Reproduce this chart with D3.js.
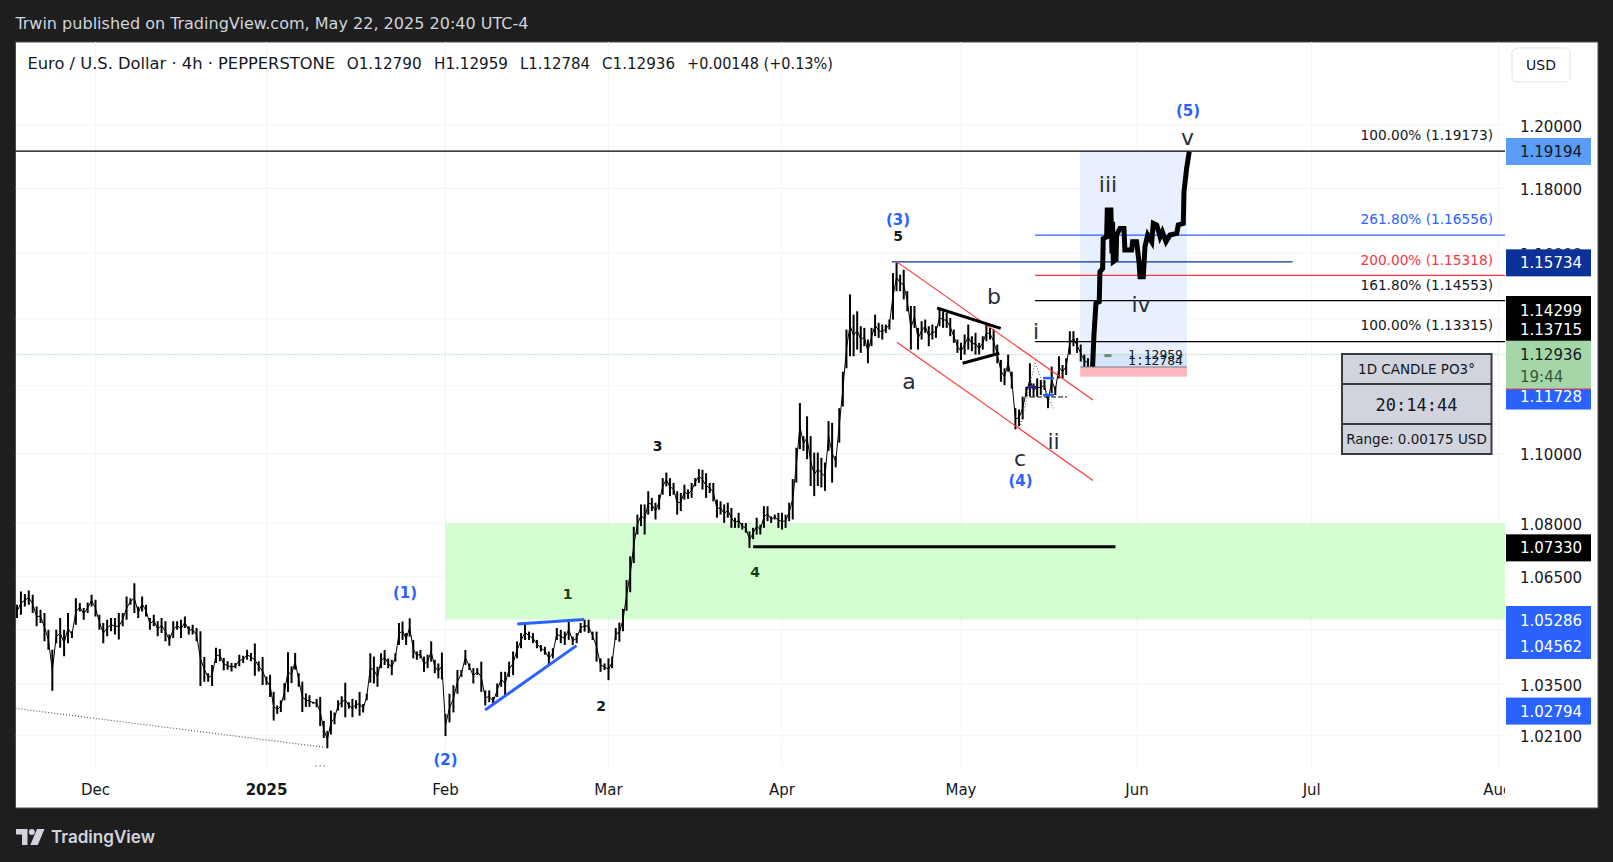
<!DOCTYPE html>
<html>
<head>
<meta charset="utf-8">
<script src="https://cdn.jsdelivr.net/npm/d3@7"></script>
<style>
  html, body { margin: 0; padding: 0; background: #1e1e1e; overflow: hidden; }
  text { font-family: "DejaVu Sans", sans-serif; }
</style>
</head>
<body>
<div id="my_dataviz"></div>
<script>
// 4h bars, one high and one low per half session, month by month
var highNov = [1.0570,1.0607,1.0600,1.0610,1.0598,1.0565,1.0556,1.0547,1.0500,1.0445,1.0500,1.0533,1.0500,1.0547,1.0496,1.0588,1.0575,1.0561,1.0576,1.0598]
var lowNov = [1.0533,1.0542,1.0565,1.0570,1.0547,1.0510,1.0519,1.0468,1.0445,1.0332,1.0463,1.0450,1.0427,1.0463,1.0477,1.0514,1.0551,1.0528,1.0547,1.0565]
var highDec = [1.0584,1.0542,1.0519,1.0528,1.0533,1.0533,1.0547,1.0547,1.0593,1.0588,1.0630,1.0565,1.0593,1.0570,1.0533,1.0542,1.0524,1.0533,1.0524,1.0487,1.0524,1.0524,1.0528,1.0537,1.0510,1.0514,1.0505,1.0496,1.0425,1.0380,1.0403,1.0450,1.0447,1.0422,1.0413,1.0408,1.0408,1.0431,1.0428,1.0445,1.0436,1.0462,1.0413,1.0425]
var lowDec = [1.0537,1.0500,1.0463,1.0482,1.0496,1.0487,1.0473,1.0510,1.0528,1.0570,1.0547,1.0533,1.0551,1.0537,1.0500,1.0510,1.0482,1.0491,1.0468,1.0456,1.0477,1.0500,1.0477,1.0505,1.0487,1.0487,1.0468,1.0345,1.0357,1.0357,1.0345,1.0408,1.0413,1.0388,1.0390,1.0385,1.0394,1.0399,1.0408,1.0417,1.0413,1.0373,1.0385,1.0348]
var highJan = [1.0371,1.0376,1.0329,1.0292,1.0306,1.0353,1.0438,1.0399,1.0436,1.0380,1.0357,1.0325,1.0320,1.0302,1.0310,1.0315,1.0250,1.0223,1.0278,1.0273,1.0306,1.0317,1.0354,1.0301,1.0310,1.0306,1.0329,1.0296,1.0324,1.0435,1.0426,1.0398,1.0435,1.0444,1.0421,1.0417,1.0435,1.0519,1.0523,1.0491,1.0532,1.0472,1.0440,1.0444,1.0426,1.0431,1.0468,1.0417,1.0407,1.0437]
var lowJan = [1.0348,1.0315,1.0251,1.0269,1.0274,1.0306,1.0329,1.0353,1.0390,1.0343,1.0274,1.0288,1.0288,1.0297,1.0287,1.0236,1.0204,1.0176,1.0213,1.0241,1.0278,1.0287,1.0260,1.0283,1.0260,1.0283,1.0264,1.0273,1.0306,1.0354,1.0352,1.0343,1.0394,1.0403,1.0394,1.0375,1.0412,1.0458,1.0472,1.0458,1.0481,1.0421,1.0417,1.0421,1.0384,1.0394,1.0412,1.0380,1.0366,1.0363]
var highFeb = [1.0269,1.0324,1.0347,1.0389,1.0389,1.0444,1.0407,1.0394,1.0394,1.0412,1.0333,1.0333,1.0315,1.0352,1.0384,1.0384,1.0412,1.0440,1.0468,1.0491,1.0514,1.0495,1.0491,1.0472,1.0458,1.0453,1.0440,1.0449,1.0505,1.0500,1.0495,1.0530,1.0481,1.0491,1.0519,1.0528,1.0528,1.0495,1.0495,1.0421,1.0407]
var lowFeb = [1.0209,1.0246,1.0273,1.0324,1.0370,1.0403,1.0389,1.0352,1.0375,1.0329,1.0292,1.0301,1.0292,1.0315,1.0343,1.0320,1.0370,1.0375,1.0421,1.0449,1.0472,1.0472,1.0463,1.0449,1.0440,1.0431,1.0403,1.0421,1.0472,1.0463,1.0458,1.0472,1.0458,1.0463,1.0491,1.0495,1.0491,1.0472,1.0412,1.0384,1.0389]
var highMar = [1.0421,1.0426,1.0505,1.0520,1.0558,1.0639,1.0706,1.0790,1.0825,1.0854,1.0854,1.0892,1.0873,1.0859,1.0882,1.0930,1.0946,1.0930,1.0916,1.0892,1.0887,1.0911,1.0897,1.0916,1.0930,1.0956,1.0954,1.0944,1.0916,1.0916,1.0868,1.0863,1.0854,1.0859,1.0844,1.0816,1.0830,1.0801,1.0801,1.0777,1.0787,1.0816,1.0796,1.0849,1.0849,1.0820,1.0825,1.0830]
var lowMar = [1.0361,1.0394,1.0472,1.0467,1.0496,1.0553,1.0605,1.0687,1.0768,1.0792,1.0768,1.0825,1.0835,1.0811,1.0839,1.0882,1.0906,1.0878,1.0882,1.0825,1.0835,1.0868,1.0870,1.0873,1.0906,1.0916,1.0897,1.0873,1.0887,1.0863,1.0816,1.0825,1.0801,1.0816,1.0787,1.0787,1.0787,1.0782,1.0773,1.0730,1.0755,1.0768,1.0768,1.0787,1.0806,1.0801,1.0811,1.0787]
var highApr = [1.0830,1.0825,1.0859,1.0927,1.1018,1.1149,1.1052,1.1110,1.1052,1.1004,1.1004,1.0989,1.0975,1.1096,1.1091,1.0994,1.1134,1.1242,1.1368,1.1474,1.1413,1.1423,1.1378,1.1373,1.1338,1.1373,1.1413,1.1388,1.1383,1.1383,1.1398,1.1539,1.1570,1.1534,1.1549,1.1484,1.1439,1.1439,1.1373,1.1393,1.1398,1.1378,1.1383,1.1378,1.1429,1.1423,1.1418,1.1403,1.1368,1.1338]
var lowApr = [1.0782,1.0787,1.0806,1.0811,1.0917,1.1014,1.1009,1.0985,1.0907,1.0878,1.0907,1.0903,1.0893,1.1009,1.0917,1.0961,1.1033,1.1139,1.1252,1.1288,1.1288,1.1308,1.1298,1.1318,1.1267,1.1318,1.1348,1.1343,1.1338,1.1358,1.1368,1.1398,1.1484,1.1484,1.1459,1.1423,1.1308,1.1373,1.1308,1.1338,1.1358,1.1318,1.1338,1.1343,1.1378,1.1373,1.1373,1.1348,1.1328,1.1298]
var highMay = [1.1328,1.1353,1.1383,1.1348,1.1358,1.1328,1.1348,1.1383,1.1373,1.1368,1.1323,1.1277,1.1252,1.1293,1.1242,1.1134,1.1130,1.1168,1.1197,1.1267,1.1207,1.1222,1.1217,1.1217,1.1168,1.1257,1.1199,1.1288,1.1262,1.1282,1.1363,1.1363,1.1343,1.1323,1.1293,1.1282]
var lowMay = [1.1277,1.1293,1.1308,1.1303,1.1293,1.1293,1.1308,1.1333,1.1338,1.1298,1.1267,1.1212,1.1202,1.1242,1.1192,1.1072,1.1081,1.1101,1.1168,1.1168,1.1168,1.1168,1.1173,1.1188,1.1134,1.1178,1.1173,1.1222,1.1222,1.1232,1.1293,1.1318,1.1298,1.1272,1.1257,1.1257]

// the projected leg, days after May 1 and price
var projDays = [23.18,23.42,23.77,24.35,24.47,24.95,25.05,25.65,25.76,26.4,26.6,26.7,26.82,27.3,27.41,28,28.7,28.87,30.05,30.23,30.93,31.34,31.52,32.08,32.37,32.84,33.53,33.8,34.39,34.96,35.35,35.98,36.67,37.82,38.09,38.95,39.07,39.53,39.97]
var projPrice = [1.1257,1.1352,1.1447,1.1452,1.1543,1.1553,1.1645,1.1650,1.1733,1.1733,1.1599,1.1697,1.1574,1.1580,1.1656,1.1676,1.1676,1.1610,1.1610,1.1635,1.1635,1.1574,1.1528,1.1528,1.1620,1.1656,1.1635,1.1692,1.1687,1.1650,1.1666,1.1635,1.1656,1.1661,1.1687,1.1692,1.1790,1.1864,1.1916]

// axis ticks
var monthDates = ["2024-11-18","2024-12-01","2025-01-01","2025-02-01","2025-03-01","2025-04-01","2025-05-01","2025-06-01","2025-07-01","2025-08-01"]
var monthLabels = ["","Dec","2025","Feb","Mar","Apr","May","Jun","Jul","Aug"]
var priceGrid = [1.2,1.18,1.16,1.14,1.12,1.10,1.08,1.065,1.05,1.035,1.021]
var priceLabels = [1.2,1.18,1.16,1.145,1.10,1.08,1.065,1.035,1.021]

// fib levels
var fibLevels = [1.19173,1.16556,1.15318,1.14553,1.13315]
var fibNames = ["100.00% (1.19173)","261.80% (1.16556)","200.00% (1.15318)","161.80% (1.14553)","100.00% (1.13315)"]

// legend pieces
var legendText = ["Euro / U.S. Dollar · 4h · PEPPERSTONE","O1.12790","H1.12959","L1.12784","C1.12936","+0.00148 (+0.13%)"]

// page layout
var width = 1613
var height = 862
var plotLeft = 15.5, plotRight = 1505, plotTop = 42, plotBottom = 767, paneRight = 1598, paneBottom = 808

var svg = d3.select("#my_dataviz")
  .append("svg")
    .attr("width", width)
    .attr("height", height)
    .style("display", "block")

var defs = svg.append("defs")
defs.append("clipPath").attr("id", "plot")
  .append("rect").attr("x", plotLeft).attr("y", plotTop).attr("width", plotRight - plotLeft).attr("height", plotBottom - plotTop)
defs.append("clipPath").attr("id", "timeaxis")
  .append("rect").attr("x", plotLeft).attr("y", plotBottom).attr("width", plotRight - plotLeft).attr("height", paneBottom - plotBottom)

// scales: the time axis is not quite even because weekends are skipped, so pin it at the month lines
var x = d3.scaleTime()
  .domain(monthDates.map(function(d) { return new Date(d + "T00:00:00Z") }))
  .range([17, 95.5, 266.5, 445.5, 608.5, 782, 961, 1137, 1311.7, 1498])

var y = d3.scaleLog()
  .domain([1.2, 1.021])
  .range([125, 735.7])

function day(s) { return new Date(s + ":00Z") }

// pane
svg.append("rect").attr("x", plotLeft).attr("y", plotTop).attr("width", paneRight - plotLeft).attr("height", paneBottom - plotTop)
  .attr("fill", "#fff").attr("stroke", "#4a4a4a").attr("stroke-width", 1)

var plot = svg.append("g").attr("clip-path", "url(#plot)")

// grid
plot.selectAll(".gh").data(priceGrid).enter().append("line")
  .attr("x1", plotLeft).attr("x2", plotRight)
  .attr("y1", function(d) { return y(d) }).attr("y2", function(d) { return y(d) })
  .attr("stroke", "#f3f4f6")
plot.selectAll(".gv").data(monthDates.slice(1)).enter().append("line")
  .attr("y1", plotTop).attr("y2", plotBottom)
  .attr("x1", function(d) { return x(new Date(d + "T00:00:00Z")) }).attr("x2", function(d) { return x(new Date(d + "T00:00:00Z")) })
  .attr("stroke", "#f3f4f6")

// demand zone, semi transparent so the grid still shows through
function box(d1, d2, p1, p2, fill) {
  return plot.append("rect")
    .attr("x", x(day(d1))).attr("width", x(day(d2)) - x(day(d1)))
    .attr("y", y(p1)).attr("height", y(p2) - y(p1))
    .attr("fill", fill)
}
box("2025-02-01T00:00", "2025-08-20T00:00", 1.0800, 1.05286, "#c5fcc1").attr("opacity", 0.75)

// long position tool
box("2025-05-22T00:00", "2025-06-09T14:00", 1.19173, 1.1295, "#e8f0fd")
box("2025-05-22T00:00", "2025-06-09T14:00", 1.1295, 1.1256, "#d5e5fb")
box("2025-05-22T00:00", "2025-06-09T14:00", 1.1256, 1.1227, "#ffb9be")

function seg(d1, p1, d2, p2, color, w, dash) {
  return plot.append("line")
    .attr("x1", x(day(d1))).attr("y1", y(p1))
    .attr("x2", x(day(d2))).attr("y2", y(p2))
    .attr("stroke", color).attr("stroke-width", w)
    .attr("stroke-dasharray", dash || null)
}

seg("2025-05-22T00:00", 1.1256, "2025-06-09T14:00", 1.1256, "#787b86", 1)

// current price dotted line
plot.append("line").attr("x1", plotLeft).attr("x2", plotRight).attr("y1", y(1.12936)).attr("y2", y(1.12936))
  .attr("stroke", "#81c784").attr("stroke-dasharray", "1,2")

// fib levels
var fibColors = ["#000", "#2962ff", "#f23645", "#000", "#000"]
fibLevels.forEach(function(p, i) {
  var start = i == 0 ? "2024-11-10T00:00" : "2025-05-14T01:00"
  seg(start, p, "2025-08-20T00:00", p, fibColors[i], 1.2)
})
seg("2025-04-19T10:00", 1.15734, "2025-06-27T17:00", 1.15734, "#0c3299", 1.2)

// bars: one vertical stroke per entry, with a thin line through the midpoints closing the gaps
var months = [[highNov, lowNov], [highDec, lowDec], [highJan, lowJan], [highFeb, lowFeb], [highMar, lowMar], [highApr, lowApr], [highMay, lowMay]]
var monthEnds = monthDates.slice(1, 7).map(function(d) { return d + "T00:00" }).concat("2025-05-24T00:00")
var bars = []
months.forEach(function(m, k) {
  var t0 = +day(monthDates[k] + "T00:00"), t1 = +day(monthEnds[k])
  m[0].forEach(function(h, j) {
    bars.push({ date: new Date(t0 + j * (t1 - t0) / m[0].length), high: h, low: m[1][j] })
  })
})
plot.append("path").datum(bars)
  .attr("d", d3.line().x(function(d) { return x(d.date) }).y(function(d) { return y(Math.sqrt(d.high * d.low)) }))
  .attr("fill", "none").attr("stroke", "#000").attr("stroke-width", 1)
plot.selectAll(".bar").data(bars).enter().append("line")
  .attr("x1", function(d) { return x(d.date) }).attr("x2", function(d) { return x(d.date) })
  .attr("y1", function(d) { return y(d.high) }).attr("y2", function(d) { return y(d.low) })
  .attr("stroke", "#000").attr("stroke-width", 2)

// projected leg
var may1 = +day("2025-05-01T00:00")
plot.append("path").datum(projDays.map(function(d, i) { return [new Date(may1 + d * 864e5), projPrice[i]] }))
  .attr("d", d3.line().x(function(d) { return x(d[0]) }).y(function(d) { return y(d[1]) }))
  .attr("fill", "none").attr("stroke", "#000").attr("stroke-width", 5).attr("stroke-linejoin", "miter")

// trend lines
seg("2024-11-17T06:00", 1.0285, "2025-01-10T23:00", 1.0179, "#555", 1.2, "1,2")
seg("2025-01-09T12:00", 1.0128, "2025-01-11T12:00", 1.0128, "#555", 1.2, "1,3")
seg("2025-02-07T19:00", 1.02794, "2025-02-23T12:00", 1.04562, "#2962ff", 3)
seg("2025-02-13T08:00", 1.0516, "2025-02-24T20:00", 1.05286, "#2962ff", 3)
seg("2025-04-20T06:00", 1.15734, "2025-05-24T06:00", 1.1158, "#ff3030", 1.1)
seg("2025-04-20T06:00", 1.1330, "2025-05-24T06:00", 1.0923, "#ff3030", 1.1)
seg("2025-04-27T00:00", 1.1433, "2025-05-08T00:00", 1.13715, "#000", 3)
seg("2025-05-01T07:00", 1.1267, "2025-05-07T18:00", 1.1297, "#000", 3)
seg("2025-03-26T20:00", 1.0733, "2025-05-28T05:00", 1.0733, "#000", 3)

// the small harmonic sketch near the May low
seg("2025-05-13T04:00", 1.1167, "2025-05-19T16:00", 1.1167, "#000", 1, "5,2")
seg("2025-05-15T11:00", 1.1223, "2025-05-17T09:00", 1.1223, "#2962ff", 2.5)
seg("2025-05-15T11:00", 1.11728, "2025-05-17T09:00", 1.11728, "#2962ff", 2.5)
seg("2025-05-12T19:00", 1.1196, "2025-05-14T05:00", 1.1196, "#2a1d8f", 2.5)
seg("2025-05-11T09:00", 1.1076, "2025-05-14T01:00", 1.1268, "#555", 1, "1,2")
seg("2025-05-14T01:00", 1.1268, "2025-05-17T05:00", 1.1134, "#555", 1, "1,2")
seg("2025-05-26T06:00", 1.1290, "2025-05-27T12:00", 1.1290, "#6d8f6d", 3)

// text on the chart, placed by hand like the drawing tools in the original
function label(str, px, py, size, color, opts) {
  opts = opts || {}
  return svg.append("text").attr("x", px).attr("y", py)
    .attr("text-anchor", opts.anchor || "middle").attr("dominant-baseline", "central")
    .attr("font-size", size).attr("fill", color)
    .attr("font-weight", opts.weight || "normal")
    .style("font-family", opts.family || null)
    .text(str)
}

var waveBlue = [["(1)",405,593],["(2)",445.5,760],["(3)",898,220],["(4)",1020.5,480.5],["(5)",1188,111]]
waveBlue.forEach(function(d) { label(d[0], d[1], d[2], 15, "#2962ff", { weight: "bold" }) })

var waveNum = [["1",567.5,594,"#14401a"],["2",601,706,"#131722"],["3",657.5,445.5,"#131722"],["4",755,572,"#14401a"],["5",898,236,"#131722"]]
waveNum.forEach(function(d) { label(d[0], d[1], d[2], 14, d[3], { weight: "bold" }) })

var waveSmall = [["a",909,381],["b",994,296],["c",1020,458],["i",1036,331],["ii",1053.5,441],["iii",1108,184],["iv",1141,304],["v",1187.5,137]]
waveSmall.forEach(function(d) { label(d[0], d[1], d[2], 22, "#2a2e39") })

label("1.12959", 1155.5, 354, 13, "#131722", { family: "DejaVu Sans Mono" })
label("1.12784", 1155.5, 360.5, 13, "#131722", { family: "DejaVu Sans Mono" })

fibNames.forEach(function(s, i) {
  var yPos = [135, 219, 260, 284.5, 325][i]
  label(s, 1493, yPos, 13.7, ["#131722", "#2962ff", "#f23645", "#131722", "#131722"][i], { anchor: "end" })
})

// price axis ticks
priceLabels.forEach(function(p) {
  label(p.toFixed(5), 1520, y(p) + 1.5, 15, "#131722", { anchor: "start" })
})

// price tags, drawn after the ticks so they cover them as in the original
function tag(p, text, fill, color, y0, y1) {
  var c = y(p)
  y0 = y0 === undefined ? c - 12.5 : y0
  y1 = y1 === undefined ? c + 14.5 : y1
  svg.append("rect").attr("x", 1506).attr("width", 85).attr("y", y0).attr("height", y1 - y0).attr("fill", fill)
  label(text, 1520, c + 1.5, 15, color, { anchor: "start" })
}
tag(1.19194, "1.19194", "#5b9cf6", "#131722")
tag(1.15734, "1.15734", "#0c3299", "#fff")
tag(1.14299, "1.14299", "#000", "#fff", 296, 319)
tag(1.13715, "1.13715", "#000", "#fff", 319, 341)
tag(1.11728, "1.11728", "#2962ff", "#fff")
tag(1.07330, "1.07330", "#000", "#fff")
tag(1.05286, "1.05286", "#2962ff", "#fff", 606, 633)
tag(1.04562, "1.04562", "#2962ff", "#fff", 632, 659)
tag(1.02794, "1.02794", "#2962ff", "#fff")
// current price
svg.append("rect").attr("x", 1506).attr("width", 85).attr("y", 340.7).attr("height", 48.3).attr("fill", "#a5d6a7")
svg.append("line").attr("x1", 1506).attr("x2", 1591).attr("y1", 389).attr("y2", 389).attr("stroke", "#f23645")
label("1.12936", 1520, 355, 15, "#131722", { anchor: "start" })
label("19:44", 1520, 376.5, 15, "#33553a", { anchor: "start" })

// time axis, clipped so Aug is cut at the price scale like in the original
var timeAxis = svg.append("g").attr("clip-path", "url(#timeaxis)")
monthDates.slice(1).forEach(function(d, i) {
  timeAxis.append("text")
    .attr("x", x(new Date(d + "T00:00:00Z"))).attr("y", 789.5)
    .attr("text-anchor", "middle").attr("dominant-baseline", "central")
    .attr("font-size", 15).attr("fill", "#131722")
    .attr("font-weight", monthLabels[i + 1] == "2025" ? "bold" : "normal")
    .text(monthLabels[i + 1])
})

// legend and header
svg.append("text").attr("x", 15.5).attr("y", 23).attr("dominant-baseline", "central")
  .attr("font-size", 16).attr("fill", "#d1d4dc").style("font-family", "'DejaVu Sans Condensed', 'DejaVu Sans'")
  .attr("textLength", 513).attr("lengthAdjust", "spacingAndGlyphs")
  .text("Trwin published on TradingView.com, May 22, 2025 20:40 UTC-4")
var legendX = [27.5, 346.7, 434, 520, 602, 687]
var legendW = [307.5, 75, 74, 70, 73, 146]
legendText.forEach(function(s, i) {
  svg.append("text").attr("x", legendX[i]).attr("y", 63.5).attr("dominant-baseline", "central")
    .attr("font-size", 15).attr("fill", "#131722").style("font-family", "'DejaVu Sans Condensed', 'DejaVu Sans'")
    .attr("textLength", legendW[i]).attr("lengthAdjust", "spacingAndGlyphs")
    .text(s)
})

// currency button
svg.append("rect").attr("x", 1512).attr("y", 48).attr("width", 58).attr("height", 34).attr("rx", 5)
  .attr("fill", "#fff").attr("stroke", "#e0e3eb")
label("USD", 1541, 65, 14, "#131722")

// candle timer panel
var panel = svg.append("g")
panel.append("rect").attr("x", 1342).attr("y", 354).attr("width", 149.5).attr("height", 100)
  .attr("fill", "#d1d4dc").attr("stroke", "#363a45").attr("stroke-width", 2)
panel.selectAll(".sep").data([384, 424]).enter().append("line")
  .attr("x1", 1342).attr("x2", 1491.5).attr("y1", function(d) { return d }).attr("y2", function(d) { return d })
  .attr("stroke", "#363a45").attr("stroke-width", 2)
label("1D CANDLE PO3°", 1416.5, 369, 13.5, "#131722")
label("20:14:44", 1416.5, 404.5, 17, "#131722", { family: "DejaVu Sans Mono" })
label("Range: 0.00175 USD", 1416.5, 439, 13.5, "#131722")

// footer logo
var logo = svg.append("g").attr("fill", "#d1d4dc")
logo.append("path").attr("d", "M16 829h11.5v16h-5.5v-10.5h-6z")
logo.append("circle").attr("cx", 31.8).attr("cy", 832).attr("r", 2.9)
logo.append("path").attr("d", "M37 829h7.5l-6.7 16h-7.5z")
svg.append("text").attr("x", 51).attr("y", 836.5).attr("dominant-baseline", "central")
  .attr("font-size", 17).attr("font-weight", "600").attr("fill", "#d1d4dc")
  .attr("textLength", 104).attr("lengthAdjust", "spacingAndGlyphs")
  .style("font-family", "Inter, 'DejaVu Sans'")
  .text("TradingView")
</script>
</body>
</html>
